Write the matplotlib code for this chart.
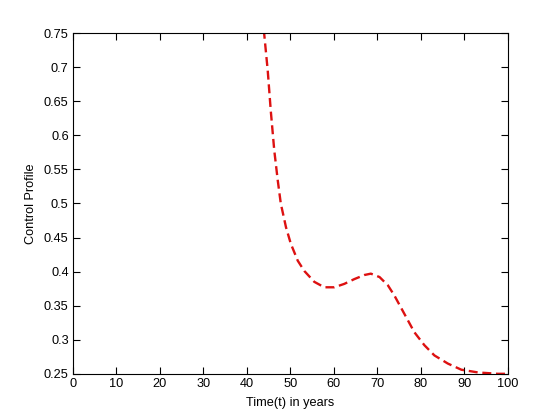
import matplotlib.pyplot as plt
import numpy as np

# control profile
t = [43.6, 44.0, 44.8, 45.5, 46.3, 47.1, 47.8, 49.0, 50.1, 51.7, 53.2, 55.5,
     57.8, 60.1, 62.4, 64.7, 67.0, 68.5, 70.5, 72.4, 73.9, 76.2, 78.5, 80.8,
     83.1, 86.2, 89.3, 93.1, 97.7, 100.0]
u = [0.775, 0.748, 0.695, 0.636, 0.578, 0.534, 0.500, 0.465, 0.441, 0.416,
     0.401, 0.385, 0.377, 0.377, 0.382, 0.389, 0.395, 0.397, 0.392, 0.380,
     0.365, 0.338, 0.311, 0.292, 0.277, 0.265, 0.256, 0.252, 0.250, 0.250]

xticks = np.arange(0, 101, 10)
yticks = np.arange(0.25, 0.751, 0.05)

plt.rcParams['font.family'] = ['Liberation Sans', 'DejaVu Sans']
plt.rcParams['font.size'] = 9.2

fig = plt.figure(figsize=(5.6, 4.2), dpi=100)
ax = fig.add_axes([0.13, 0.11, 0.777, 0.811])

ax.plot(t, u, color='#dd1111', linewidth=1.7, dashes=(3.8, 2.0))

ax.set_xlim(0, 100)
ax.set_ylim(0.25, 0.75)
ax.set_xticks(xticks)
ax.set_yticks(yticks)
ax.set_yticklabels(['%g' % round(v, 2) for v in yticks])
ax.tick_params(direction='in', length=5, top=True, right=True, width=0.8, pad=3)
for s in ax.spines.values():
    s.set_linewidth(0.8)

ax.set_xlabel('Time(t) in years', labelpad=5)
ax.set_ylabel('Control Profile', labelpad=5)

fig.savefig('out.png', dpi=100)
